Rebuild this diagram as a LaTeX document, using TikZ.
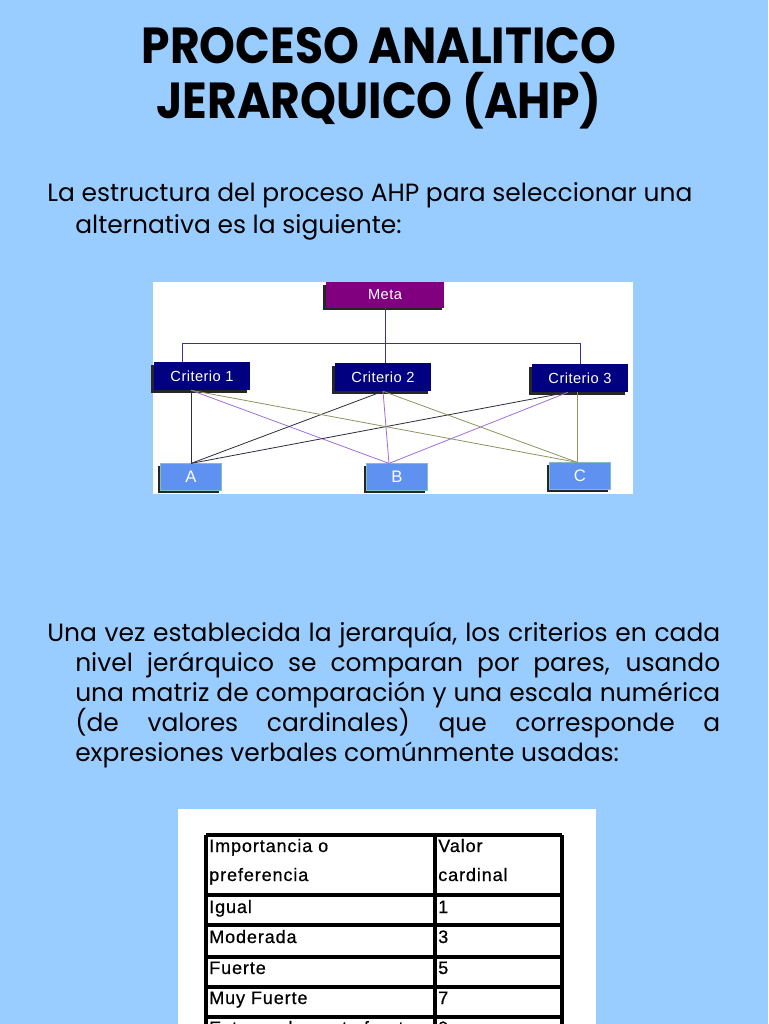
\documentclass[tikz,border=0pt]{standalone}
\usepackage{fontspec}
\setmainfont{Poppins}
\newfontfamily\boxfont[LetterSpace=3]{Liberation Sans}
\newfontfamily\tablefont[LetterSpace=5,FakeBold=0.6]{Liberation Sans}
\usetikzlibrary{shadows}

\definecolor{slidebg}{RGB}{153,204,255}
\definecolor{metafill}{RGB}{128,0,128}
\definecolor{critfill}{RGB}{0,0,128}
\definecolor{altfill}{RGB}{95,145,240}
\definecolor{busline}{RGB}{51,51,153}
\definecolor{lineA}{RGB}{45,45,60}
\definecolor{lineB}{RGB}{160,110,220}
\definecolor{lineC}{RGB}{140,150,95}

\tikzset{
  title/.style={anchor=base,inner sep=0,font=\fontsize{38}{40}\selectfont\bfseries},
  body/.style={anchor=base west,inner sep=0,font=\fontsize{18.7}{22}\selectfont},
  boxshadow/.style={drop shadow={shadow xshift=-2pt,shadow yshift=-2pt,fill=black!85,opacity=1}},
  metabox/.style={fill=metafill,boxshadow,minimum width=89pt,minimum height=19pt,
    text=white,font=\boxfont\fontsize{11}{12}\selectfont},
  critbox/.style={fill=critfill,boxshadow,minimum width=72pt,minimum height=21pt,
    text=white,font=\boxfont\fontsize{11}{12}\selectfont},
  altbox/.style={fill=altfill,draw=teal!50,line width=0.4pt,boxshadow,minimum width=46pt,
    minimum height=20pt,text=white,font=\boxfont\fontsize{12.5}{13}\selectfont},
  bus/.style={busline,line width=0.6pt},
  cell/.style={anchor=base west,inner sep=0,font=\tablefont\fontsize{13.5}{15}\selectfont}
}

\begin{document}
\begin{tikzpicture}[x=0.75pt,y=-0.75pt]
  % Slide background
  \fill[slidebg] (0,0) rectangle (768,1024);
  \useasboundingbox (0,0) rectangle (768,1024);
  \clip (0,0) rectangle (768,1024);

  % Title
  \node[title] (title1) at (379,64) {\scalebox{0.9}[1]{PROCESO ANALITICO}};
  \node[title] (title2) at (379,118) {\scalebox{0.9}[1]{JERARQUICO (AHP)}};

  % First paragraph
  \node[body] (intro1) at (47,201) {La estructura del proceso AHP para seleccionar una};
  \node[body] (intro2) at (75,233) {alternativa es la siguiente:};

  % Hierarchy
  \fill[white] (153,282) rectangle (633,494);
  \node[metabox] (meta) at (385,295) {Meta};
  \node[critbox] (c1) at (202,376) {Criterio 1};
  \node[critbox] (c2) at (383,377) {Criterio 2};
  \node[critbox] (c3) at (580,378) {Criterio 3};
  \node[altbox] (a) at (191,477) {A};
  \node[altbox] (b) at (397,477) {B};
  \node[altbox] (c) at (580,476) {C};

  \coordinate (busl) at (182,343);
  \coordinate (busr) at (c3.north |- busl);
  \draw[bus] (meta.south) -- (meta.south |- c2.north);
  \draw[bus] (busl |- c1.north) -- (busl) -- (busr) -- (c3.north);

  \coordinate (s1) at (a.north |- c1.south);
  \coordinate (s2) at (c2.south);
  \coordinate (s3) at ([xshift=-9pt]c3.south);
  \coordinate (ea) at (a.north);
  \coordinate (eb) at ([xshift=-6pt]b.north);
  \coordinate (ec) at ([xshift=-2pt]c.north);
  \foreach \src in {s1,s2,s3} {
    \draw[lineA,line width=0.6pt] (\src) -- (ea);
    \draw[lineB,line width=0.6pt] (\src) -- (eb);
  }
  \draw[lineC,line width=0.6pt] (s1) -- (ec);
  \draw[lineC,line width=0.6pt] (s2) -- (ec);
  \draw[lineC,line width=0.8pt] (ec |- c3.south) -- (ec);

  % Second paragraph
  \node[body] (par1) at (47,641) {\makebox[504.75pt][s]{Una vez establecida la jerarquía, los criterios en cada}};
  \node[body] (par2) at (75,671) {\makebox[483.75pt][s]{nivel jerárquico se comparan por pares, usando}};
  \node[body] (par3) at (75,701) {\makebox[483.75pt][s]{una matriz de comparación y una escala numérica}};
  \node[body] (par4) at (75,731) {\makebox[483.75pt][s]{(de valores cardinales) que corresponde a}};
  \node[body] (par5) at (75,761) {expresiones verbales comúnmente usadas:};

  % Scale table
  \fill[white] (178,809) rectangle (596,1030);
  \foreach \y in {835,895,925,957,987,1017}
    \draw[black,line width=2.4pt] (206,\y) -- (562,\y);
  \foreach \x in {206,435,562}
    \draw[black,line width=2.4pt] (\x,835) -- (\x,1030);

  \node[cell] (h1) at (209,852) {Importancia o};
  \node[cell] (h2) at (209,881) {preferencia};
  \node[cell] (v1) at (438,852) {Valor};
  \node[cell] (v2) at (438,881) {cardinal};
  \node[cell] (r1) at (209,913) {Igual};
  \node[cell] (n1) at (438,913) {1};
  \node[cell] (r2) at (209,943) {Moderada};
  \node[cell] (n2) at (438,943) {3};
  \node[cell] (r3) at (209,974) {Fuerte};
  \node[cell] (n3) at (438,974) {5};
  \node[cell] (r4) at (209,1004) {Muy Fuerte};
  \node[cell] (n4) at (438,1004) {7};
  \node[cell] (r5) at (209,1034) {Extremadamente fuerte};
  \node[cell] (n5) at (438,1034) {9};
\end{tikzpicture}
\end{document}
